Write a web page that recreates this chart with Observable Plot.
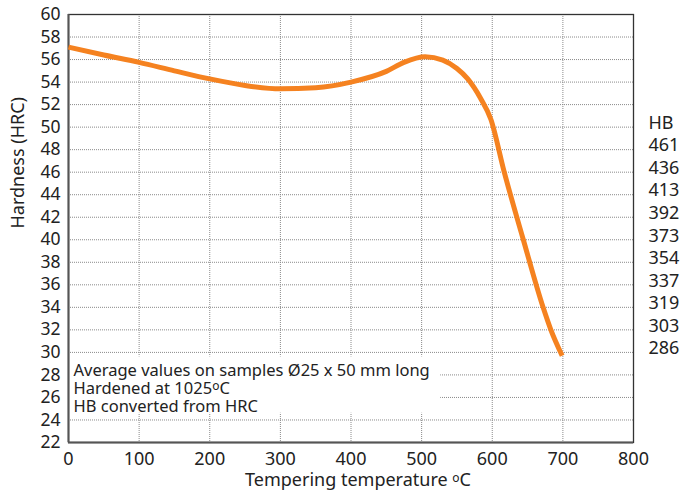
<!DOCTYPE html>
<html>
<head>
<meta charset="utf-8">
<script src="https://cdn.jsdelivr.net/npm/d3@7"></script>
<script src="https://cdn.jsdelivr.net/npm/@observablehq/plot@0.6"></script>
<style>
  html, body { margin: 0; padding: 0; background: #fff; }
  #chart svg { display: block; font-family: "Noto Sans", sans-serif; }
</style>
</head>
<body>
<div id="chart"></div>
<script>
// Tempering curve (°C vs HRC)
const temps    = [0, 50, 100, 150, 200, 250, 300, 350, 400, 450, 475, 505, 530, 550, 565, 584, 598, 617, 644, 672, 683, 699];
const hardness = [57.1, 56.4, 55.75, 55.0, 54.28, 53.7, 53.4, 53.5, 54.0, 54.95, 55.75, 56.25, 55.95, 55.2, 54.3, 52.5, 50.7, 46.0, 40.0, 34.0, 32.0, 29.7];

// Axis ticks
const xTicks = [0, 100, 200, 300, 400, 500, 600, 700, 800];
const yTicks = [22, 24, 26, 28, 30, 32, 34, 36, 38, 40, 42, 44, 46, 48, 50, 52, 54, 56, 58, 60];

// Brinell hardness scale on the right
const hbLabels = ["HB", "461", "436", "413", "392", "373", "354", "337", "319", "303", "286"];
const hbAtHrc  = [50, 48, 46, 44, 42, 40, 38, 36, 34, 32, 30];

// Texts
const xTitle = "Tempering temperature °C";
const yTitle = "Hardness (HRC)";
const noteLines = ["Average values on samples Ø25 x 50 mm long", "Hardened at 1025°C", "HB converted from HRC"];

const curve = temps.map((t, i) => ({t, h: hardness[i]}));
const hb = hbLabels.map((s, i) => ({s, y: hbAtHrc[i]}));

const plot = Plot.plot({
  width: 683,
  height: 492,
  marginLeft: 68,
  marginRight: 50,
  marginTop: 14,
  marginBottom: 50,
  style: {fontFamily: "Noto Sans, sans-serif", fontSize: "17px", color: "#222", background: "#fff"},
  x: {domain: [0, 800]},
  y: {domain: [22, 60]},
  marks: [
    Plot.gridX(xTicks, {stroke: "#8a8a8a", strokeOpacity: 1, strokeDasharray: "1 1"}),
    Plot.gridY(yTicks, {stroke: "#8a8a8a", strokeOpacity: 1, strokeDasharray: "1 1"}),
    Plot.rect([0], {x1: 0, x2: 527, y1: 24.6, y2: 29.6, fill: "white"}),
    Plot.frame({stroke: "#333", strokeWidth: 1.3}),
    Plot.ruleX([0], {stroke: "#555", strokeWidth: 2}),
    Plot.ruleY([22], {stroke: "#555", strokeWidth: 2}),
    Plot.axisX(xTicks, {tickSize: 0, tickPadding: 10, fontSize: 18, fill: "#222", label: null}),
    Plot.axisY(yTicks, {tickSize: 0, tickPadding: 8, fontSize: 17.5, fill: "#222", label: null}),
    Plot.line(curve, {x: "t", y: "h", stroke: "#f58220", strokeWidth: 5, curve: "monotone-x", strokeLinecap: "butt"}),
    Plot.text(hb, {x: () => 800, y: "y", text: "s", textAnchor: "start", dx: 15, dy: -4, fontSize: 18, fill: "#222"}),
    Plot.text([noteLines.join("\n")], {frameAnchor: "bottom-left", textAnchor: "start", lineAnchor: "bottom", dx: 5, dy: -31, fontSize: 16.5, lineHeight: 1.09, fill: "#222"}),
    Plot.text([xTitle], {frameAnchor: "bottom", lineAnchor: "middle", dy: 38, dx: 7, fontSize: 18, fill: "#222"}),
    Plot.text([yTitle], {frameAnchor: "left", dx: -50, rotate: -90, fontSize: 18, fill: "#222"})
  ]
});

// Render the small raised "o" of the degree sign like the reference
const ns = "http://www.w3.org/2000/svg";
plot.querySelectorAll("text, tspan").forEach(el => {
  if (el.children.length === 0 && el.textContent.includes("°C")) {
    const [a, b] = el.textContent.split("°");
    el.textContent = a;
    const o = document.createElementNS(ns, "tspan");
    o.setAttribute("font-size", "12px");
    o.setAttribute("dy", "-4px");
    o.textContent = "o";
    const c = document.createElementNS(ns, "tspan");
    c.setAttribute("dy", "4px");
    c.textContent = b;
    el.appendChild(o);
    el.appendChild(c);
  }
});

document.getElementById("chart").appendChild(plot);
</script>
</body>
</html>
